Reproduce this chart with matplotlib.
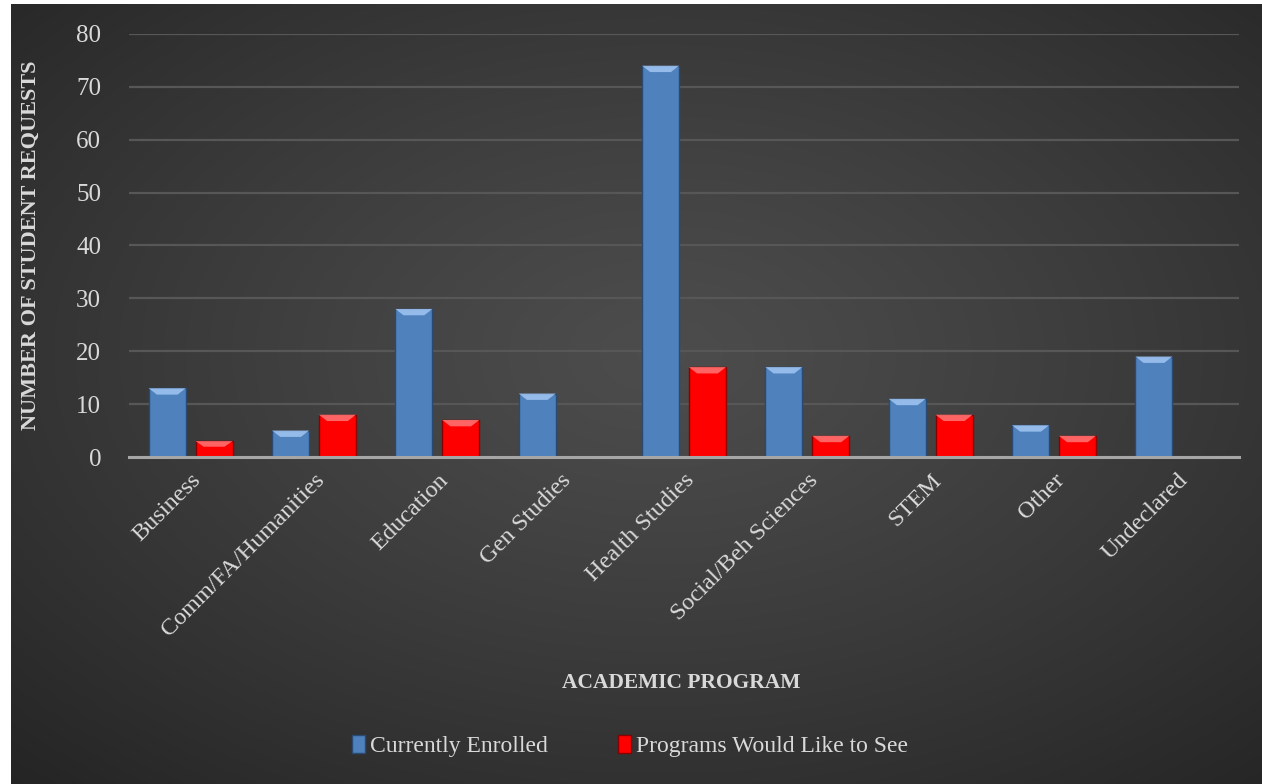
import numpy as np
import matplotlib
matplotlib.use("Agg")
import matplotlib.pyplot as plt
from matplotlib.patches import Polygon, Patch

categories = ["Business", "Comm/FA/Humanities", "Education", "Gen Studies",
              "Health Studies", "Social/Beh Sciences", "STEM", "Other", "Undeclared"]
enrolled = [13, 5, 28, 12, 74, 17, 11, 6, 19]
would_like = [3, 8, 7, 0, 17, 4, 8, 4, 0]
series_names = ["Currently Enrolled", "Programs Would Like to See"]
yticks = [0, 10, 20, 30, 40, 50, 60, 70, 80]

W, H = 1262, 784
fig = plt.figure(figsize=(W / 100, H / 100), dpi=100)
fig.patch.set_facecolor("white")

# background radial gradient panel
bg = fig.add_axes([11 / W, 0, 1 - 11 / W, 1 - 4 / H], zorder=-10)
ny, nx = 400, 640
yy, xx = np.mgrid[0:1:ny * 1j, 0:1:nx * 1j]
r = np.sqrt(((xx - 0.52) / 0.75) ** 2 + ((yy - 0.45) / 0.75) ** 2)
r = np.clip(r, 0, 1)
val = 0.30 - 0.155 * r ** 1.2
img = np.dstack([val, val, val])
bg.imshow(img, aspect="auto", extent=[0, 1, 1, 0], interpolation="bicubic")
bg.set_axis_off()

ax = fig.add_axes([129 / W, 1 - 457 / H, (1239 - 129) / W, (457 - 34) / H])
ax.set_facecolor("none")

txt = "#d9d9d9"
serif = ["Liberation Serif", "DejaVu Serif"]

x = np.arange(len(categories))
w = 0.30
off = 0.19
b1 = ax.bar(x - off, enrolled, w, color="#4f81bd", edgecolor="#2b4a73", linewidth=1.0, zorder=3)
b2 = ax.bar(x + off, would_like, w, color="#ff0000", edgecolor="#8a0000", linewidth=1.0, zorder=3)

def bevel(bars, light):
    for p in bars:
        h = p.get_height()
        if h <= 0:
            continue
        x0 = p.get_x()
        bw = p.get_width()
        d = min(1.2, h * 0.35)
        ins = bw * 0.22
        poly = Polygon([[x0, h], [x0 + bw, h], [x0 + bw - ins, h - d], [x0 + ins, h - d]],
                       closed=True, facecolor=light, edgecolor="none", zorder=4, alpha=0.9)
        ax.add_patch(poly)

bevel(b1, "#9cc2ef")
bevel(b2, "#ff7070")

ax.set_ylim(0, 80)
ax.set_xlim(-0.5, len(categories) - 0.5)
ax.set_yticks(yticks)
ax.set_yticklabels([str(v) for v in yticks], fontsize=18, color=txt, family=serif)
ax.yaxis.grid(True, color="#575757", linewidth=1.6, zorder=0)
ax.set_axisbelow(True)
ax.set_xticks(x)
ax.set_xticklabels(categories, rotation=45, ha="right", rotation_mode="anchor",
                   fontsize=17.5, color=txt, family=serif)
ax.tick_params(axis="both", length=0)
ax.tick_params(axis="y", pad=20)
ax.tick_params(axis="x", pad=9)
for s in ["top", "right", "left"]:
    ax.spines[s].set_visible(False)
ax.spines["bottom"].set_color("#a6a6a6")
ax.spines["bottom"].set_linewidth(2.2)
ax.spines["bottom"].set_zorder(5)

fig.text(31 / W, 1 - 245 / H, "NUMBER OF STUDENT REQUESTS", rotation=90, ha="center", va="center",
         fontsize=16, fontweight="bold", color=txt, family=serif)
fig.text(681 / W, 1 - 683 / H, "ACADEMIC PROGRAM", ha="center", va="center",
         fontsize=15.5, fontweight="bold", color=txt, family=serif)

handles = [Patch(facecolor="#4f81bd", edgecolor="#2b4a73"),
           Patch(facecolor="#ff0000", edgecolor="#8a0000")]
leg = fig.legend(handles, series_names, loc="center", bbox_to_anchor=(630 / W, 1 - 746 / H),
                 ncol=2, frameon=False, handlelength=0.55, handleheight=0.8,
                 handletextpad=0.2, columnspacing=3.0,
                 prop={"family": serif, "size": 17})
for t in leg.get_texts():
    t.set_color(txt)

fig.savefig("out.png", dpi=100, facecolor=fig.get_facecolor())
